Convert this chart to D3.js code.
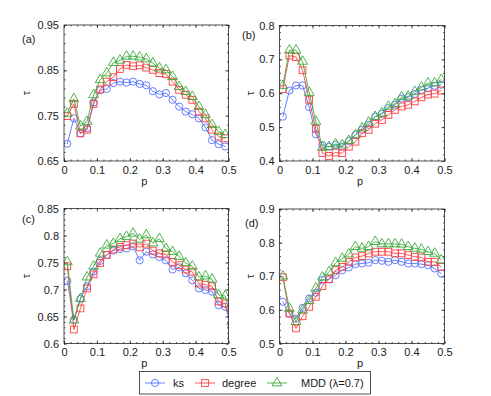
<!DOCTYPE html>
<html>
<head>
<meta charset="utf-8">
<script src="https://cdn.jsdelivr.net/npm/d3@7"></script>
<style>
  body { margin: 0; background: #fff; }
  svg { display: block; font-family: "Liberation Sans", Arial, sans-serif; }
</style>
</head>
<body>
<script>
// x values (p) shared by every panel
var pVals = [0.01,0.03,0.05,0.07,0.09,0.11,0.13,0.15,0.17,0.19,0.21,0.23,0.25,0.27,0.29,0.31,0.33,0.35,0.37,0.39,0.41,0.43,0.45,0.47,0.49,0.51];
var xTicks = [0, 0.1, 0.2, 0.3, 0.4, 0.5];

// panel (a)
var aKs     = [0.688,0.744,0.711,0.722,0.779,0.806,0.809,0.822,0.825,0.823,0.825,0.820,0.817,0.804,0.797,0.800,0.785,0.770,0.759,0.753,0.744,0.724,0.696,0.687,0.682];
var aDegree = [0.749,0.776,0.711,0.719,0.776,0.808,0.825,0.835,0.853,0.862,0.859,0.861,0.856,0.851,0.844,0.842,0.825,0.807,0.796,0.785,0.759,0.744,0.719,0.704,0.700];
var aMdd    = [0.755,0.787,0.727,0.737,0.796,0.829,0.844,0.867,0.872,0.881,0.881,0.879,0.875,0.866,0.855,0.851,0.836,0.814,0.803,0.792,0.770,0.752,0.730,0.715,0.708];
var aTicks  = [0.65, 0.75, 0.85, 0.95];

// panel (b)
var bKs     = [0.531,0.608,0.623,0.623,0.559,0.479,0.447,0.442,0.447,0.442,0.459,0.477,0.492,0.507,0.531,0.539,0.556,0.566,0.584,0.588,0.598,0.610,0.615,0.622,0.625];
var bDegree = [0.612,0.711,0.707,0.668,0.581,0.495,0.423,0.415,0.425,0.423,0.442,0.457,0.482,0.492,0.510,0.521,0.536,0.551,0.561,0.566,0.576,0.588,0.596,0.599,0.608];
var bMdd    = [0.622,0.727,0.727,0.694,0.602,0.517,0.440,0.442,0.450,0.447,0.460,0.477,0.497,0.514,0.531,0.541,0.561,0.569,0.589,0.591,0.605,0.618,0.630,0.630,0.640];
var bTicks  = [0.4, 0.5, 0.6, 0.7, 0.8];

// panel (c) (last value sits just past p = 0.5 and is clipped)
var cKs     = [0.716,0.644,0.683,0.706,0.733,0.753,0.764,0.772,0.775,0.776,0.780,0.754,0.770,0.765,0.760,0.754,0.737,0.741,0.730,0.717,0.702,0.699,0.696,0.671,0.668,0.630];
var cDegree = [0.743,0.626,0.665,0.702,0.728,0.749,0.764,0.774,0.779,0.782,0.785,0.778,0.785,0.772,0.767,0.765,0.751,0.745,0.737,0.733,0.711,0.709,0.706,0.678,0.674,0.635];
var cMdd    = [0.751,0.643,0.683,0.723,0.743,0.767,0.782,0.785,0.794,0.798,0.804,0.793,0.801,0.786,0.794,0.776,0.770,0.761,0.749,0.743,0.723,0.725,0.719,0.690,0.688,0.640];
var cTicks  = [0.6, 0.65, 0.7, 0.75, 0.8, 0.85];

// panel (d)
var dKs     = [0.624,0.589,0.574,0.606,0.634,0.651,0.689,0.691,0.703,0.718,0.726,0.736,0.738,0.740,0.748,0.746,0.743,0.748,0.743,0.738,0.738,0.736,0.733,0.723,0.708];
var dDegree = [0.697,0.589,0.545,0.581,0.609,0.639,0.671,0.691,0.718,0.728,0.743,0.756,0.760,0.768,0.773,0.773,0.773,0.768,0.768,0.763,0.758,0.756,0.743,0.743,0.728];
var dMdd    = [0.700,0.604,0.565,0.599,0.627,0.664,0.697,0.713,0.740,0.753,0.766,0.788,0.783,0.788,0.803,0.796,0.796,0.796,0.795,0.788,0.783,0.780,0.773,0.768,0.748];
var dTicks  = [0.5, 0.6, 0.7, 0.8, 0.9];

var seriesNames = ["ks", "degree", "MDD (\u03bb=0.7)"];
var colors = ["#5570ff", "#ff3f3f", "#3eaa3e"];
var shapes = ["circle", "square", "triangle"];

var w = 491, h = 396;
var svg = d3.select("body").append("svg")
            .attr("width", w)
            .attr("height", h);

var panels = [
  {label: "(a)", ys: [aKs, aDegree, aMdd], ticks: aTicks, fmt: ".2f", x0: 64, x1: 228.5, y0: 161, y1: 25, lx: 22, ly: 43, tx: 27, px: 185},
  {label: "(b)", ys: [bKs, bDegree, bMdd], ticks: bTicks, fmt: ".1f", x0: 279.5, x1: 444.5, y0: 161, y1: 25.5, lx: 242, ly: 39, tx: 251, px: 185},
  {label: "(c)", ys: [cKs, cDegree, cMdd], ticks: cTicks, fmt: "~g", x0: 64, x1: 228.5, y0: 343.5, y1: 208.5, lx: 22, ly: 223, tx: 27, px: 367},
  {label: "(d)", ys: [dKs, dDegree, dMdd], ticks: dTicks, fmt: ".1f", x0: 279.5, x1: 444.5, y0: 343.5, y1: 209, lx: 245, ly: 227, tx: 251, px: 367}
];

function marker(g, shape, color, x, y) {
  if (shape == "circle") {
    g.append("circle").attr("cx", x).attr("cy", y).attr("r", 3.6)
     .attr("fill", "none").attr("stroke", color).attr("stroke-width", 0.9);
  } else if (shape == "square") {
    g.append("rect").attr("x", x - 3.4).attr("y", y - 3.4).attr("width", 6.8).attr("height", 6.8)
     .attr("fill", "none").attr("stroke", color).attr("stroke-width", 0.9);
  } else {
    g.append("path").attr("d", d3.symbol().type(d3.symbolTriangle).size(42)())
     .attr("transform", "translate(" + x + "," + y + ")")
     .attr("fill", "none").attr("stroke", color).attr("stroke-width", 0.9);
  }
}

panels.forEach(function(P, k) {
  var xScale = d3.scaleLinear().domain([0, 0.5]).range([P.x0, P.x1]);
  var yScale = d3.scaleLinear().domain([P.ticks[0], P.ticks[P.ticks.length - 1]]).range([P.y0, P.y1]);
  var g = svg.append("g");

  g.append("clipPath").attr("id", "clip" + k)
   .append("rect").attr("x", P.x0).attr("y", P.y1).attr("width", P.x1 - P.x0).attr("height", P.y0 - P.y1);

  // minor ticks
  var xMinor = d3.range(0, 0.5001, 0.02);
  var step = (P.ticks[1] - P.ticks[0]) / 5;
  var yMinor = d3.range(P.ticks[0], P.ticks[P.ticks.length - 1] + step / 2, step);

  function styleAxis(sel) {
    sel.select(".domain").remove();
    sel.selectAll(".tick line").attr("stroke", "#262626").attr("stroke-width", 0.8);
    sel.selectAll("text").attr("fill", "#1a1a1a").style("font-size", "11px").style("font-family", "'Liberation Sans', Arial, sans-serif");
  }

  g.append("g").attr("transform", "translate(0," + P.y0 + ")")
   .call(d3.axisBottom(xScale).tickValues(xTicks).tickFormat(d3.format("~g")).tickSizeInner(-3).tickSizeOuter(0).tickPadding(5))
   .call(styleAxis);
  g.append("g").attr("transform", "translate(0," + P.y1 + ")")
   .call(d3.axisTop(xScale).tickValues(xTicks).tickFormat("").tickSizeInner(-3).tickSizeOuter(0))
   .call(styleAxis);
  g.append("g").attr("transform", "translate(" + P.x0 + ",0)")
   .call(d3.axisLeft(yScale).tickValues(P.ticks).tickFormat(d3.format(P.fmt)).tickSizeInner(-3).tickSizeOuter(0).tickPadding(5))
   .call(styleAxis);
  g.append("g").attr("transform", "translate(" + P.x1 + ",0)")
   .call(d3.axisRight(yScale).tickValues(P.ticks).tickFormat("").tickSizeInner(-3).tickSizeOuter(0))
   .call(styleAxis);

  g.append("g").attr("transform", "translate(0," + P.y0 + ")")
   .call(d3.axisBottom(xScale).tickValues(xMinor).tickFormat("").tickSizeInner(-1.5).tickSizeOuter(0))
   .call(styleAxis);
  g.append("g").attr("transform", "translate(0," + P.y1 + ")")
   .call(d3.axisTop(xScale).tickValues(xMinor).tickFormat("").tickSizeInner(-1.5).tickSizeOuter(0))
   .call(styleAxis);
  g.append("g").attr("transform", "translate(" + P.x0 + ",0)")
   .call(d3.axisLeft(yScale).tickValues(yMinor).tickFormat("").tickSizeInner(-1.5).tickSizeOuter(0))
   .call(styleAxis);
  g.append("g").attr("transform", "translate(" + P.x1 + ",0)")
   .call(d3.axisRight(yScale).tickValues(yMinor).tickFormat("").tickSizeInner(-1.5).tickSizeOuter(0))
   .call(styleAxis);

  // data
  var plot = g.append("g").attr("clip-path", "url(#clip" + k + ")");
  P.ys.forEach(function(vals, s) {
    var line = d3.line().x(function(d, i) { return xScale(pVals[i]); }).y(function(d) { return yScale(d); });
    plot.append("path").datum(vals).attr("d", line)
        .attr("fill", "none").attr("stroke", colors[s]).attr("stroke-width", 0.9);
    vals.forEach(function(v, i) {
      marker(plot, shapes[s], colors[s], xScale(pVals[i]), yScale(v));
    });
  });

  // box
  g.append("rect").attr("x", P.x0).attr("y", P.y1).attr("width", P.x1 - P.x0).attr("height", P.y0 - P.y1)
   .attr("fill", "none").attr("stroke", "#262626").attr("stroke-width", 0.8);

  // labels
  g.append("text").attr("x", P.lx).attr("y", P.ly).text(P.label)
   .style("font-size", "11px").attr("fill", "#1a1a1a");
  g.append("text").attr("x", (P.x0 + P.x1) / 2 - 2).attr("y", P.px).attr("text-anchor", "middle").text("p")
   .style("font-size", "11px").attr("fill", "#1a1a1a");
  g.append("text").attr("transform", "translate(" + (P.tx + 3) + "," + ((P.y0 + P.y1) / 2) + ") rotate(-90)")
   .attr("text-anchor", "middle").text("\u03c4")
   .style("font-size", "11px").attr("fill", "#1a1a1a");
});

// legend
var leg = svg.append("g");
leg.append("rect").attr("x", 139.5).attr("y", 371.5).attr("width", 231).attr("height", 22.5)
   .attr("fill", "#fff").attr("stroke", "#262626").attr("stroke-width", 0.8);
var legX = [145, 195, 267];
var legText = [173, 222, 301];
seriesNames.forEach(function(name, s) {
  var cy = 383;
  leg.append("line").attr("x1", legX[s]).attr("x2", legX[s] + 20).attr("y1", cy).attr("y2", cy)
     .attr("stroke", colors[s]).attr("stroke-width", 0.9);
  marker(leg, shapes[s], colors[s], legX[s] + 10, cy);
  leg.append("text").attr("x", legText[s]).attr("y", cy + 4).text(name)
     .style("font-size", "11px").attr("fill", "#1a1a1a");
});
</script>
</body>
</html>
